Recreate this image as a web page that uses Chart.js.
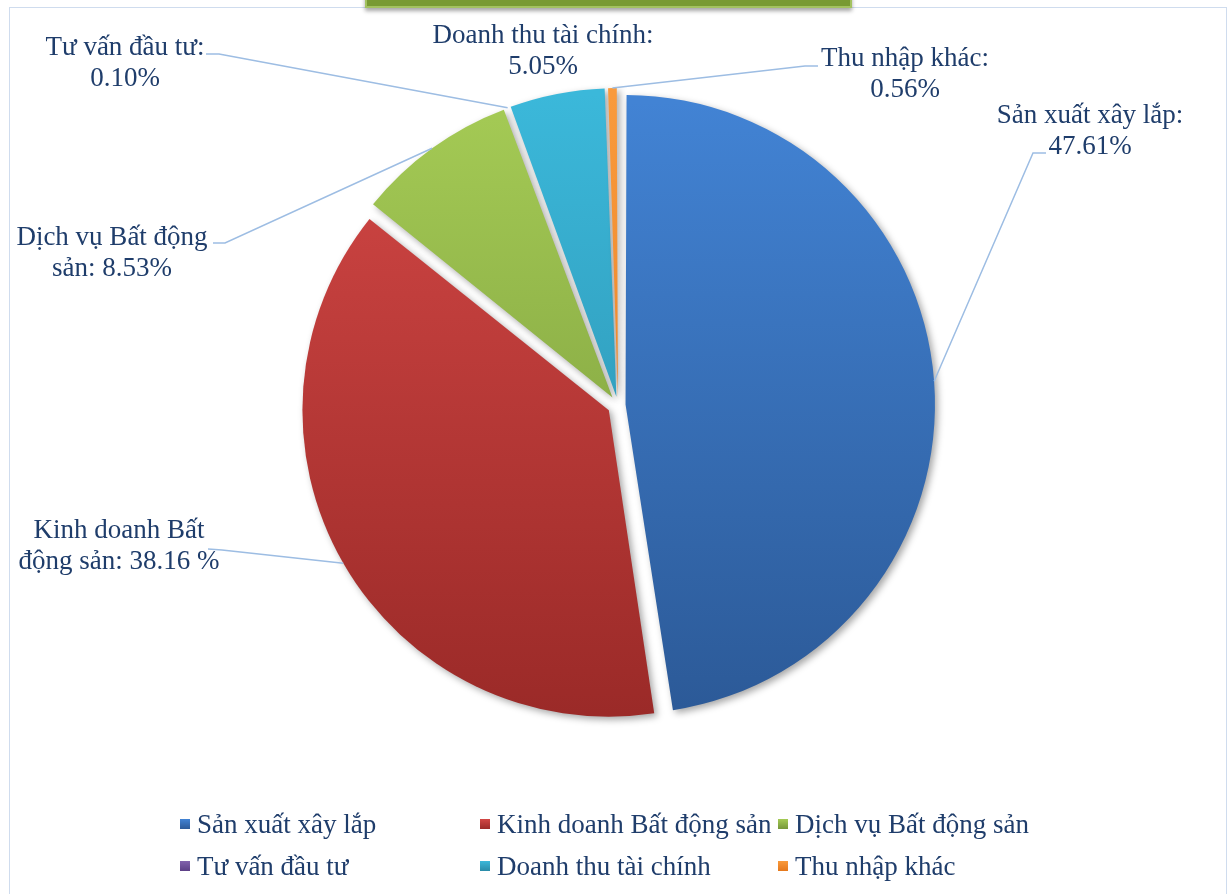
<!DOCTYPE html>
<html>
<head>
<meta charset="utf-8">
<script src="https://cdn.jsdelivr.net/npm/chart.js@4.4.0/dist/chart.umd.min.js"></script>
<style>
  body { margin: 0; background: #fff; overflow: hidden; font-family: "Liberation Serif", "Times New Roman", serif; }
  #khung { position: relative; width: 1227px; height: 894px; }
  #vien { position: absolute; left: 9px; top: 7px; width: 1216px; height: 900px; border: 1.5px solid #cfdcee; border-bottom: none; }
  #hopTieuDe { position: absolute; left: 365px; top: -12px; width: 483px; height: 16px; background: #789a33; border: 2px solid #a3c260; box-shadow: 0 3px 4px rgba(0,0,0,.35); }
  #bieuDo { position: absolute; left: 0; top: 0; }
  #chuGiai { position: absolute; left: 180px; top: 803px; display: grid; grid-template-columns: 300px 298px 320px; }
  .muc { display: flex; align-items: center; height: 42px; font-size: 27px; color: #1f3d6b; white-space: nowrap; }
  .o { width: 10px; height: 10px; margin-right: 7px; flex: none; }
</style>
</head>
<body>
<div id="khung">
  <div id="vien"></div>
  <div id="hopTieuDe"></div>
  <canvas id="bieuDo" width="1227" height="894"></canvas>
  <div id="chuGiai"></div>
</div>
<script>
// Dữ liệu cơ cấu doanh thu (%)
const danhMuc = ['Sản xuất xây lắp', 'Kinh doanh Bất động sản', 'Dịch vụ Bất động sản', 'Tư vấn đầu tư', 'Doanh thu tài chính', 'Thu nhập khác'];
const tyLe = [47.61, 38.16, 8.53, 0.10, 5.05, 0.56];
const nhanDuLieu = [
  ['Sản xuất xây lắp:', '47.61%'],
  ['Kinh doanh Bất', 'động sản: 38.16 %'],
  ['Dịch vụ Bất động', 'sản: 8.53%'],
  ['Tư vấn đầu tư:', '0.10%'],
  ['Doanh thu tài chính:', '5.05%'],
  ['Thu nhập khác:', '0.56%']
];

// màu sáng (trên) và màu đậm (dưới) cho từng lát
const mauSang = ['#4283d4', '#d24745', '#a5cb55', '#8262ad', '#3bb8da', '#f99a3c'];
const mauDam = ['#2c5a98', '#9b2a28', '#76963a', '#5c3f86', '#2a8ba8', '#e5781c'];
const mauChu = '#1f3d6b';
const mauDuongDan = '#9dbde3';

const banKinh = 303;
const doTach = 14;

// vị trí nhãn (tâm dòng đầu) và đoạn gãy của đường dẫn
const viTriNhan = [
  { x: 1090, y: 116, dan: [[1046, 153], [1033, 153]] },
  { x: 119, y: 531, dan: [[208, 549], [222, 550]] },
  { x: 112, y: 238, dan: [[213, 243], [225, 243]] },
  { x: 125, y: 48, dan: [[206, 54], [219, 54]] },
  { x: 543, y: 36, dan: null },
  { x: 905, y: 59, dan: [[818, 66], [805, 66]] }
];

const tong = tyLe.reduce((a, b) => a + b, 0);
// ArcElement dịch offset/4 * (2 - sin(góc)) nên quy đổi lại để lát nào cũng tách đều
function heSo(i) {
  const goc = tyLe[i] / tong * Math.PI * 2;
  return (1 + (1 - Math.sin(Math.min(Math.PI, goc)))) / 4;
}

function toMau(c) {
  const i = c.dataIndex;
  const vung = c.chart.chartArea;
  if (!vung) return mauSang[i];
  const cy = (vung.top + vung.bottom) / 2;
  const g = c.chart.ctx.createLinearGradient(0, cy - banKinh, 0, cy + banKinh);
  g.addColorStop(0, mauSang[i]);
  g.addColorStop(1, mauDam[i]);
  return g;
}

const bongDo = {
  id: 'bongDo',
  beforeDatasetsDraw(chart) {
    const ctx = chart.ctx;
    ctx.save();
    ctx.shadowColor = 'rgba(0,0,0,0.35)';
    ctx.shadowBlur = 7;
    ctx.shadowOffsetX = 3;
    ctx.shadowOffsetY = 3;
  },
  afterDatasetsDraw(chart) {
    chart.ctx.restore();
  }
};

const nhanLat = {
  id: 'nhanLat',
  afterDraw(chart) {
    const ctx = chart.ctx;
    const cacLat = chart.getDatasetMeta(0).data;
    ctx.save();
    ctx.font = '27px "Liberation Serif", "Times New Roman", serif';
    ctx.textAlign = 'center';
    ctx.textBaseline = 'middle';
    viTriNhan.forEach((p, i) => {
      const lat = cacLat[i];
      const { x, y, startAngle, endAngle, outerRadius } = lat.getProps(['x', 'y', 'startAngle', 'endAngle', 'outerRadius'], true);
      const giua = (startAngle + endAngle) / 2;
      const dich = lat.options.offset * heSo(i);
      const ex = x + Math.cos(giua) * (outerRadius + dich);
      const ey = y + Math.sin(giua) * (outerRadius + dich);
      if (p.dan) {
        ctx.strokeStyle = mauDuongDan;
        ctx.lineWidth = 1.5;
        ctx.beginPath();
        ctx.moveTo(p.dan[0][0], p.dan[0][1]);
        ctx.lineTo(p.dan[1][0], p.dan[1][1]);
        ctx.lineTo(ex, ey);
        ctx.stroke();
      }
      ctx.fillStyle = mauChu;
      nhanDuLieu[i].forEach((dong, k) => ctx.fillText(dong, p.x, p.y + k * 31));
    });
    ctx.restore();
  }
};

new Chart(document.getElementById('bieuDo'), {
  type: 'pie',
  data: {
    labels: danhMuc,
    datasets: [{
      data: tyLe,
      backgroundColor: toMau,
      borderWidth: 0,
      offset: (c) => doTach / heSo(c.dataIndex)
    }]
  },
  options: {
    responsive: false,
    animation: false,
    events: [],
    radius: banKinh,
    layout: { padding: { left: 100, right: 91, top: 100, bottom: 184 } },
    plugins: {
      legend: { display: false },
      tooltip: { enabled: false }
    }
  },
  plugins: [bongDo, nhanLat]
});

// chú giải dạng lưới như bản gốc
const chuGiai = document.getElementById('chuGiai');
danhMuc.forEach((ten, i) => {
  const muc = document.createElement('div');
  muc.className = 'muc';
  const o = document.createElement('span');
  o.className = 'o';
  o.style.background = 'linear-gradient(' + mauSang[i] + ',' + mauDam[i] + ')';
  muc.appendChild(o);
  muc.appendChild(document.createTextNode(ten));
  chuGiai.appendChild(muc);
});
</script>
</body>
</html>
